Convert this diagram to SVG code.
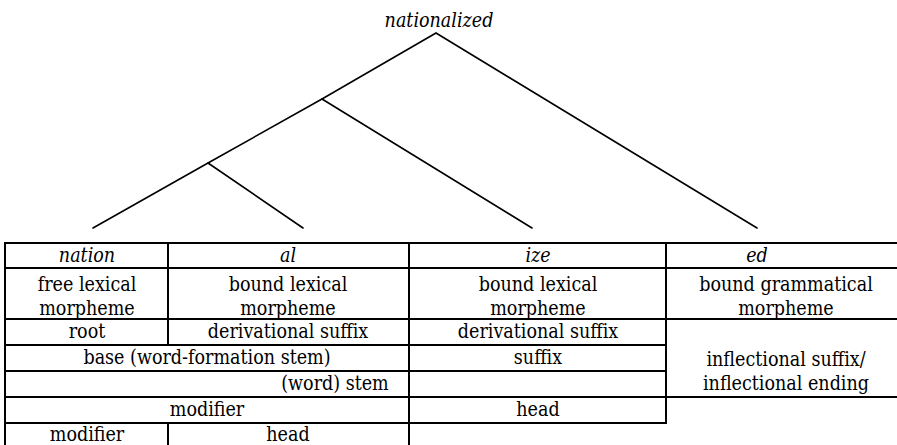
<svg xmlns="http://www.w3.org/2000/svg" width="897" height="445" viewBox="0 0 897 445">
  <style>
    .t { font-family: 'DejaVu Serif', 'Liberation Serif', serif; font-stretch: condensed; font-size: 19.5px; fill: #000; text-anchor: middle; }
    .i { font-style: italic; }
    .branch { stroke: #000; stroke-width: 1.6; fill: none; stroke-linecap: round; }
    .grid { stroke: #000; stroke-width: 2; fill: none; }
  </style>
  <rect width="897" height="445" fill="#fff"/>

  <!-- word at the top of the tree -->
  <g id="node-nationalized">
    <text class="t i" x="439" y="27">nationalized</text>
  </g>

  <!-- constituent branches -->
  <g id="connectors">
    <polyline class="branch" points="93,228 208,163 322,99 436,33 757,228"/>
    <line class="branch" x1="208" y1="163" x2="303" y2="228"/>
    <line class="branch" x1="322" y1="99" x2="532" y2="228"/>
  </g>

  <!-- table rules -->
  <g id="table-grid" class="grid">
    <line x1="4" y1="243" x2="897" y2="243"/>
    <line x1="4" y1="268" x2="897" y2="268"/>
    <line x1="4" y1="319" x2="897" y2="319"/>
    <line x1="4" y1="345" x2="666" y2="345"/>
    <line x1="4" y1="371" x2="666" y2="371"/>
    <line x1="4" y1="397" x2="897" y2="397"/>
    <line x1="4" y1="423" x2="666" y2="423"/>
    <line x1="5" y1="242" x2="5" y2="445"/>
    <line x1="168" y1="243" x2="168" y2="345"/>
    <line x1="168" y1="423" x2="168" y2="445"/>
    <line x1="409" y1="243" x2="409" y2="445"/>
    <line x1="666" y1="243" x2="666" y2="424"/>
  </g>

  <!-- column: nation -->
  <g id="cell-nation"><text class="t i" x="87" y="262">nation</text></g>
  <g id="cell-free-lexical">
    <text class="t" x="87" y="291">free lexical</text>
    <text class="t" x="87" y="315">morpheme</text>
  </g>
  <g id="cell-root"><text class="t" x="87" y="338">root</text></g>

  <!-- column: al -->
  <g id="cell-al"><text class="t i" x="288" y="262">al</text></g>
  <g id="cell-al-bound">
    <text class="t" x="288" y="291">bound lexical</text>
    <text class="t" x="288" y="315">morpheme</text>
  </g>
  <g id="cell-al-deriv"><text class="t" x="288" y="338">derivational suffix</text></g>

  <!-- column: ize -->
  <g id="cell-ize"><text class="t i" x="538" y="262">ize</text></g>
  <g id="cell-ize-bound">
    <text class="t" x="538" y="291">bound lexical</text>
    <text class="t" x="538" y="315">morpheme</text>
  </g>
  <g id="cell-ize-deriv"><text class="t" x="538" y="338">derivational suffix</text></g>
  <g id="cell-suffix"><text class="t" x="538" y="364">suffix</text></g>

  <!-- column: ed -->
  <g id="cell-ed"><text class="t i" x="757" y="262">ed</text></g>
  <g id="cell-ed-bound">
    <text class="t" x="786" y="291">bound grammatical</text>
    <text class="t" x="786" y="315">morpheme</text>
  </g>
  <g id="cell-inflectional">
    <text class="t" x="786" y="366">inflectional suffix/</text>
    <text class="t" x="786" y="390">inflectional ending</text>
  </g>

  <!-- spanning rows -->
  <g id="cell-base"><text class="t" x="207" y="364">base (word-formation stem)</text></g>
  <g id="cell-stem"><text class="t" x="335" y="390">(word) stem</text></g>
  <g id="cell-modifier-1"><text class="t" x="207" y="416">modifier</text></g>
  <g id="cell-head-1"><text class="t" x="538" y="416">head</text></g>
  <g id="cell-modifier-2"><text class="t" x="87" y="441">modifier</text></g>
  <g id="cell-head-2"><text class="t" x="288" y="441">head</text></g>
</svg>
